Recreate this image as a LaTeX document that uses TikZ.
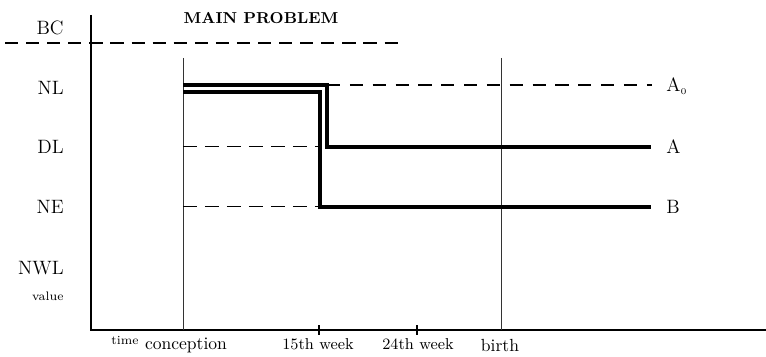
\documentclass[tikz,border=0pt]{standalone}
\usepackage{tikz}
\usetikzlibrary{positioning}
\tikzset{
  axisline/.style={line width=1.7pt},
  guide/.style={line width=0.5pt, black!80},
  level/.style={line width=2pt},
  bcline/.style={line width=1.6pt, dash pattern=on 7.5pt off 4.5pt},
  anull/.style={line width=1.4pt, dash pattern=on 7.5pt off 5.5pt},
  thindash/.style={line width=0.5pt, dash pattern=on 8pt off 4.5pt},
  ylab/.style={font=\fontsize{11}{13}\selectfont, anchor=east, inner sep=0pt},
  xlab/.style={font=\small, inner sep=1pt},
  endlab/.style={font=\fontsize{11}{13}\selectfont, anchor=west, inner sep=0pt},
  tinylab/.style={font=\scriptsize, inner sep=0pt},
}

\begin{document}
\begin{tikzpicture}[x=0.02cm, y=-0.02cm]
  \useasboundingbox (0,0) rectangle (766,357);
  % --- key points (pixel grid of the sketch) ---
  \coordinate (o) at (91,330);
  \coordinate (ytop) at (91,15);
  \coordinate (xend) at (766,330);
  \coordinate (bcL) at (5,43);
  \coordinate (bcR) at (403,43);
  \coordinate (concT) at (183,58);
  \coordinate (conc) at (183,330);
  \coordinate (birthT) at (501,58);
  \coordinate (birth) at (501,330);
  \coordinate (endA0) at (652,85);
  \coordinate (endA) at (651,147);
  \coordinate (endB) at (651,207);

  % --- axes ---
  \draw[axisline] (ytop) -- (o) -- (xend);
  \draw[bcline] (bcL) -- (bcR);
  \foreach \tx/\tn in {319/wk15, 417/wk24}
    \draw[line width=1.4pt] (\tx,325) coordinate (\tn) -- (\tx,335);

  % --- time markers ---
  \draw[guide] (concT) -- (conc);
  \draw[guide] (birthT) -- (birth);

  % --- y levels ---
  \node[ylab] (bc) at (64,28) {BC};
  \node[ylab] (nl) at (64,88) {NL};
  \node[ylab] (dl) at (64,147) {DL};
  \node[ylab] (ne) at (64,207) {NE};
  \node[ylab] (nwl) at (64,268) {NWL};
  \node[tinylab, anchor=east] (val) at (64,296) {value};
  \node[font=\small\bfseries] (title) at (261,18) {MAIN PROBLEM};

  % --- x labels ---
  \node[tinylab] (time) at (125,341) {time};
  \node[font=\normalsize, inner sep=1pt] (lconc) at (186,345) {conception};
  \node[xlab] (l15) at (318,344) {15th week};
  \node[xlab] (l24) at (418,344) {24th week};
  \node[font=\normalsize, inner sep=1pt] (lbirth) at (500,345) {birth};

  % --- curve ends ---
  \node[endlab] (a0) at (666,86) {A\textsubscript{\tiny 0}};
  \node[endlab] (a) at (666,147) {A};
  \node[endlab] (b) at (666,207) {B};

  % --- paths A0, A and B ---
  \draw[anull] (327,85) -- (endA0);
  \draw[thindash] (183,146) -- (320,146);
  \draw[thindash] (183,206) -- (320,206);
  \draw[level] (183,85) -- (327,85) -- (327,147) -- (endA);
  \draw[level] (183,92) -- (320,92) -- (320,207) -- (endB);
\end{tikzpicture}
\end{document}
